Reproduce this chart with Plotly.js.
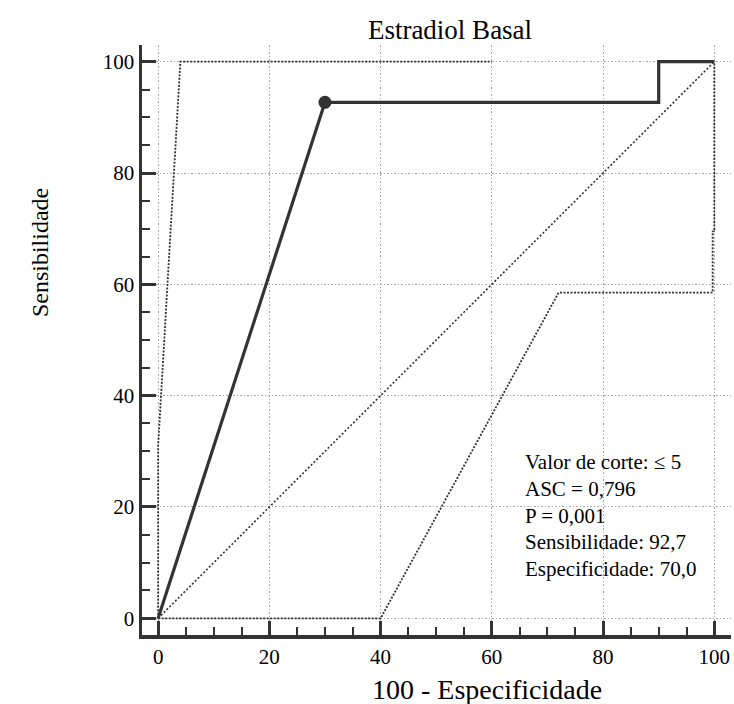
<!DOCTYPE html>
<html>
<head>
<meta charset="utf-8">
<script src="https://cdn.plot.ly/plotly-3.0.1.min.js"></script>
<style>
  html, body { margin: 0; padding: 0; background: #fff; }
  #chart { width: 734px; height: 704px; }
</style>
</head>
<body>
<div id="chart"></div>
<script>
// ROC curve for basal estradiol (100 - specificity vs sensitivity)
const rocX = [0, 30, 90, 90, 100];
const rocY = [0, 92.7, 92.7, 100, 100];

// Optimal cut-off point
const cutX = [30];
const cutY = [92.7];

// Upper and lower confidence bounds
const upperX = [0, 0, 4, 60];
const upperY = [0, 31, 100, 100];
const lowerX = [0, 40, 72, 99.7, 99.7, 100, 100];
const lowerY = [0, 0, 58.5, 58.5, 69.5, 69.5, 100];

// Reference (chance) diagonal
const diagX = [0, 100];
const diagY = [0, 100];

const statLines = [
  'Valor de corte: \u2264 5',
  'ASC = 0,796',
  'P = 0,001',
  'Sensibilidade: 92,7',
  'Especificidade: 70,0'
];
const tickVals = [0, 20, 40, 60, 80, 100];

const ink = '#333333';
const serif = 'Liberation Serif, Times New Roman, serif';

const traces = [
  { x: diagX, y: diagY, mode: 'lines', line: { color: ink, width: 1.6, dash: '2px,2px' }, hoverinfo: 'skip' },
  { x: upperX, y: upperY, mode: 'lines', line: { color: ink, width: 1.8, dash: '2px,1.5px' }, hoverinfo: 'skip' },
  { x: lowerX, y: lowerY, mode: 'lines', line: { color: ink, width: 1.8, dash: '2px,1.5px' }, hoverinfo: 'skip' },
  { x: rocX, y: rocY, mode: 'lines', line: { color: ink, width: 3.2 } },
  { x: cutX, y: cutY, mode: 'markers', marker: { color: ink, size: 13 } }
];

// Statistics box, one line per annotation
const statY0 = 28.0, statStep = 4.77;
const annotations = statLines.map((t, i) => ({
  text: t, x: 65.6, y: statY0 - i * statStep, xref: 'x', yref: 'y',
  xanchor: 'left', yanchor: 'middle', showarrow: false,
  font: { family: serif, size: 21, color: '#000' }
}));
annotations.push({
  text: '100 - Especificidade', xref: 'paper', yref: 'paper',
  x: (487 - 142) / 589, y: -0.093, xanchor: 'center', yanchor: 'middle',
  showarrow: false, font: { family: serif, size: 28, color: '#000' }
});
annotations.push({
  text: 'Sensibilidade', xref: 'paper', yref: 'paper',
  x: -0.173, y: (635 - 253) / 590, xanchor: 'center', yanchor: 'middle',
  textangle: -90, showarrow: false, font: { family: serif, size: 24, color: '#000' }
});

const axisCommon = {
  tickmode: 'array', tickvals: tickVals,
  ticks: 'inside', ticklen: 14, tickwidth: 3, tickcolor: ink,
  minor: { dtick: 5, tick0: 0, ticks: 'inside', ticklen: 8, tickwidth: 2, tickcolor: ink, showgrid: false },
  showline: true, linecolor: ink, linewidth: 3.5,
  showgrid: true, gridcolor: '#a8a8a8', gridwidth: 1, griddash: '1.5px,2px',
  zeroline: false, fixedrange: true,
  tickfont: { family: serif, size: 21, color: '#000' }
};

const layout = {
  width: 734, height: 704,
  margin: { l: 142, r: 3, t: 45, b: 69 },
  paper_bgcolor: '#fff', plot_bgcolor: '#fff',
  showlegend: false,
  title: {
    text: 'Estradiol Basal', xref: 'container', yref: 'container',
    x: 450 / 734, y: 1 - 30 / 704, xanchor: 'center', yanchor: 'middle',
    font: { family: serif, size: 27, color: '#000' }
  },
  xaxis: Object.assign({}, axisCommon, { range: [-2.9, 103] }),
  yaxis: Object.assign({}, axisCommon, { range: [-3, 103] }),
  annotations: annotations
};

Plotly.newPlot('chart', traces, layout, { displayModeBar: false, staticPlot: true });
</script>
</body>
</html>
